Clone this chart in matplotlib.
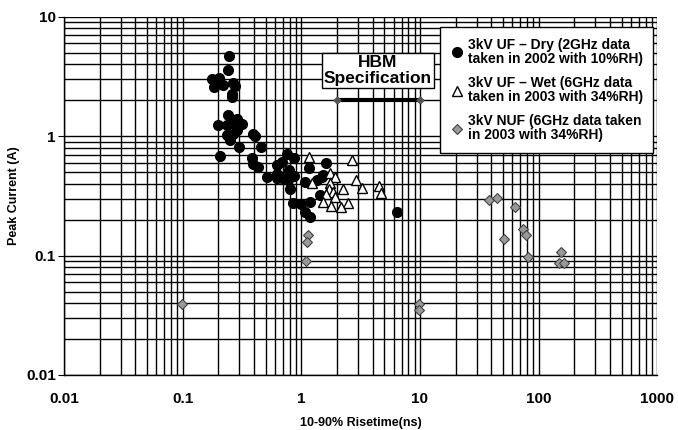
import matplotlib.pyplot as plt
from matplotlib.ticker import LogLocator, NullFormatter, FixedFormatter, FixedLocator

plt.rcParams["font.family"] = ["Liberation Sans", "DejaVu Sans"]
plt.rcParams["font.weight"] = "bold"

# 3kV UF - Dry (2GHz, 2002, 10%RH)
dry_rise = [0.245, 0.239, 0.177, 0.202, 0.185, 0.219, 0.265, 0.276, 0.262, 0.262,
            0.239, 0.285, 0.197, 0.235, 0.267, 0.314, 0.235, 0.267, 0.285, 0.250,
            0.300, 0.206, 0.393, 0.406, 0.454, 0.381, 0.393, 0.434, 0.51, 0.627,
            0.627, 0.752, 0.871, 0.682, 0.791, 0.62, 0.682, 0.776, 0.866, 0.80,
            1.07, 1.17, 1.63, 1.48, 1.35, 1.53, 1.43, 1.18, 0.855, 1.0,
            1.07, 1.18, 6.43]
dry_peak = [4.71, 3.56, 3.03, 3.08, 2.59, 2.68, 2.80, 2.63, 2.24, 2.11,
            1.50, 1.38, 1.24, 1.24, 1.28, 1.26, 1.02, 1.05, 1.12, 0.93,
            0.815, 0.68, 1.05, 1.00, 0.805, 0.652, 0.59, 0.555, 0.457, 0.573,
            0.444, 0.705, 0.652, 0.61, 0.52, 0.479, 0.444, 0.429, 0.463, 0.358,
            0.415, 0.537, 0.598, 0.457, 0.43, 0.472, 0.321, 0.283, 0.274, 0.27,
            0.233, 0.209, 0.233]

# 3kV UF - Wet (6GHz, 2003, 34%RH)
wet_rise = [1.17, 2.65, 1.74, 1.92, 1.24, 1.74, 2.88, 2.25, 3.27, 1.72,
            1.85, 1.61, 1.92, 4.53, 4.69, 2.48, 2.18, 1.53, 1.79]
wet_peak = [0.666, 0.63, 0.493, 0.454, 0.405, 0.407, 0.429, 0.36, 0.367, 0.358,
            0.343, 0.327, 0.307, 0.386, 0.332, 0.275, 0.254, 0.28, 0.258]

# 3kV NUF (6GHz, 2003, 34%RH)
nuf_rise = [1.13, 1.12, 1.09, 0.099, 9.85, 9.85, 38, 45, 63, 51,
            74, 78, 81.6, 154, 148, 164]
nuf_peak = [0.149, 0.131, 0.0904, 0.039, 0.039, 0.035, 0.292, 0.301, 0.254, 0.137,
            0.166, 0.149, 0.0977, 0.1076, 0.086, 0.086]

# HBM specification range
hbm_rise = [2, 10]
hbm_peak = [2, 2]

tick_vals = [0.01, 0.1, 1, 10, 100, 1000]
tick_text = ["0.01", "0.1", "1", "10", "100", "1000"]

fig = plt.figure(figsize=(6.78, 4.30), dpi=100)
ax = fig.add_axes([0.0944, 0.128, 0.875, 0.833])

ax.set_xscale("log")
ax.set_yscale("log")
ax.set_xlim(0.01, 1000)
ax.set_ylim(0.01, 10)

ax.xaxis.set_major_locator(FixedLocator(tick_vals))
ax.xaxis.set_major_formatter(FixedFormatter(tick_text))
ax.yaxis.set_major_locator(FixedLocator(tick_vals[:4]))
ax.yaxis.set_major_formatter(FixedFormatter(tick_text[:4]))
for axis in (ax.xaxis, ax.yaxis):
    axis.set_minor_locator(LogLocator(base=10, subs=range(2, 10), numticks=20))
    axis.set_minor_formatter(NullFormatter())

ax.grid(True, which="both", color="black", linewidth=1.0)
ax.set_axisbelow(True)
ax.tick_params(axis="x", which="both", length=0, labelsize=11, pad=12)
ax.tick_params(axis="y", which="major", length=4, direction="out", labelsize=11, pad=2)
ax.tick_params(axis="y", which="minor", length=0)
for side in ("top", "right"):
    ax.spines[side].set_visible(False)
for side in ("left", "bottom"):
    ax.spines[side].set_linewidth(1.0)

ax.plot(dry_rise, dry_peak, "o", color="black", markersize=7, linestyle="none",
        label="3kV UF \u2013 Dry (2GHz data\ntaken in 2002 with 10%RH)")
ax.plot(wet_rise, wet_peak, "^", markerfacecolor="white", markeredgecolor="black",
        markeredgewidth=1.0, markersize=7.5, linestyle="none",
        label="3kV UF \u2013 Wet (6GHz data\ntaken in 2003 with 34%RH)")
ax.plot(nuf_rise, nuf_peak, "D", markerfacecolor="#999999", markeredgecolor="#444444",
        markeredgewidth=0.8, markersize=5, linestyle="none",
        label="3kV NUF (6GHz data taken\nin 2003 with 34%RH)")

ax.plot(hbm_rise, hbm_peak, color="black", linewidth=3, solid_capstyle="butt")
ax.plot(hbm_rise, hbm_peak, "D", color="#555555", markersize=3.5, linestyle="none")
ax.text(4.4, 3.55, "HBM\nSpecification", ha="center", va="center", fontsize=12.5,
        fontweight="bold", linespacing=1.05,
        bbox=dict(boxstyle="square,pad=0.12", facecolor="white", edgecolor="black",
                  linewidth=1.0))

leg = ax.legend(loc="upper right", bbox_to_anchor=(0.993, 0.971), fontsize=10,
                frameon=True, fancybox=False, edgecolor="black", framealpha=1,
                borderpad=0.75, handletextpad=0.3, handlelength=0.9,
                labelspacing=0.75, borderaxespad=0)
leg.get_frame().set_linewidth(1.0)
for t in leg.get_texts():
    t.set_linespacing(1.0)

ax.set_ylabel("Peak Current (A)", fontsize=9, fontweight="bold", labelpad=4)
ax.set_xlabel("10-90% Risetime(ns)", fontsize=9, fontweight="bold", labelpad=8)

fig.savefig("out.png", dpi=100)
